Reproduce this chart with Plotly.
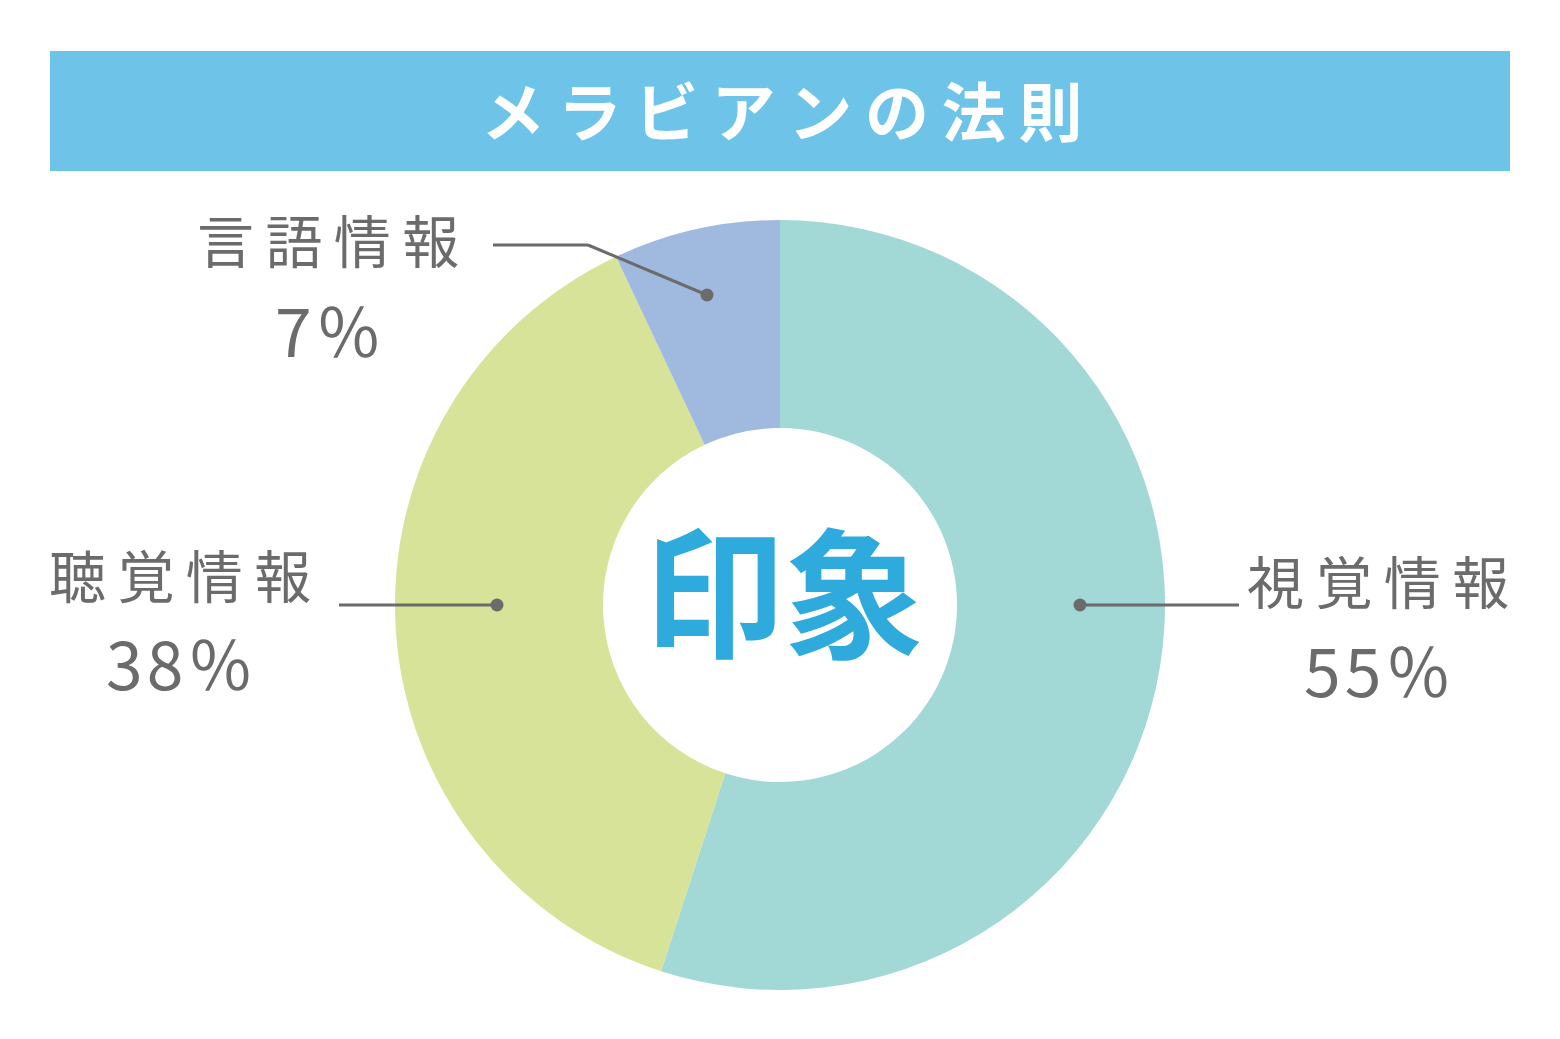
import plotly.graph_objects as go

# ---- data ----
categories = ["視覚情報", "聴覚情報", "言語情報"]
values = [55, 38, 7]
pct_labels = ["55％", "38％", "7％"]
colors = ["#a2d9d6", "#d6e398", "#a0b9df"]
title_text = "メラビアンの法則"
center_text = "印象"

W, H = 1560, 1039
CX, CY, R = 780, 605, 385
HOLE = 177 / 385

# label layout (pixel positions)
label_pos = {
    "視覚情報": dict(name=(1378, 579), pct=(1378, 668), line=[(1080, 605), (1239, 605)]),
    "聴覚情報": dict(name=(180, 573), pct=(180, 661), line=[(497, 605), (339, 605)]),
    "言語情報": dict(name=(328, 238), pct=(328, 328), line=[(707, 295), (588, 245), (493, 245)]),
}

GREY = "#6b6b6b"
JP = "Noto Sans CJK JP"
TS = "\u2009"  # thin space to emulate letter spacing
HS = "\u200a"  # hair space

fig = go.Figure()
fig.add_trace(go.Pie(
    labels=categories, values=values,
    marker=dict(colors=colors, line=dict(width=0)),
    hole=HOLE, sort=False, direction="clockwise", rotation=0,
    textinfo="none", hoverinfo="label+percent", showlegend=False,
    domain=dict(x=[(CX - R) / W, (CX + R) / W],
                y=[(H - CY - R) / H, (H - CY + R) / H]),
))

shapes = [dict(type="rect", xref="x", yref="y", x0=50, x1=1510, y0=51, y1=171,
               fillcolor="#6dc3e8", line=dict(width=0), layer="below")]
annotations = [
    dict(text=TS.join(title_text), x=782, y=108, xref="x", yref="y", showarrow=False,
         font=dict(family=JP, size=64, color="white", weight="bold"),
         xanchor="center", yanchor="middle"),
    dict(text=center_text, x=784, y=586, xref="x", yref="y", showarrow=False,
         font=dict(family=JP, size=140, color="#2eaadc", weight="bold"),
         xanchor="center", yanchor="middle"),
]
for cat, pct in zip(categories, pct_labels):
    p = label_pos[cat]
    annotations.append(dict(text=TS.join(cat), x=p["name"][0], y=p["name"][1], xref="x", yref="y",
                            showarrow=False, font=dict(family=JP, size=57, color=GREY),
                            xanchor="center", yanchor="middle"))
    annotations.append(dict(text=HS.join(pct), x=p["pct"][0], y=p["pct"][1], xref="x", yref="y",
                            showarrow=False, font=dict(family=JP, size=66, color=GREY),
                            xanchor="center", yanchor="middle"))
    pts = p["line"]
    for (x0, y0), (x1, y1) in zip(pts[:-1], pts[1:]):
        shapes.append(dict(type="line", xref="x", yref="y", x0=x0, y0=y0, x1=x1, y1=y1,
                           line=dict(color=GREY, width=3)))
    dx, dy = pts[0]
    shapes.append(dict(type="circle", xref="x", yref="y", x0=dx - 6.5, x1=dx + 6.5, y0=dy - 6.5, y1=dy + 6.5,
                       fillcolor=GREY, line=dict(width=0)))

fig.update_layout(
    width=W, height=H, margin=dict(l=0, r=0, t=0, b=0),
    paper_bgcolor="white", plot_bgcolor="rgba(0,0,0,0)",
    xaxis=dict(range=[0, W], visible=False, fixedrange=True),
    yaxis=dict(range=[H, 0], visible=False, fixedrange=True),
    shapes=shapes, annotations=annotations,
)
fig.write_html("out.html")
